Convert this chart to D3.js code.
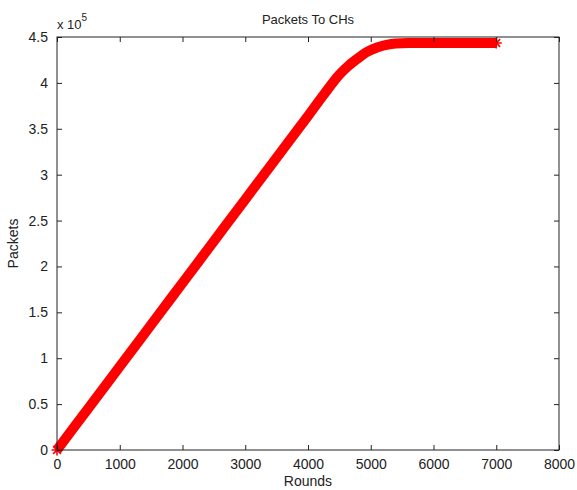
<!DOCTYPE html>
<html>
<head>
<meta charset="utf-8">
<script src="https://cdn.jsdelivr.net/npm/d3@7/dist/d3.min.js"></script>
<style>
  body { margin: 0; background: #fff; }
  svg { display: block; }
  text { font-family: "Liberation Sans", Arial, sans-serif; fill: #222; }
</style>
</head>
<body>
<svg id="chart" width="577" height="490"></svg>
<script>
// Data (rounds, packets in units of 1e5)
const rounds  = [0, 500, 1000, 1500, 2000, 2500, 3000, 3500, 4000, 4250, 4500, 4650, 4800, 4950, 5100, 5250, 5400, 5600, 6000, 6500, 7000];
const packets = [0, 0.455, 0.91, 1.365, 1.82, 2.275, 2.73, 3.185, 3.64, 3.87, 4.09, 4.19, 4.27, 4.34, 4.385, 4.415, 4.43, 4.435, 4.435, 4.435, 4.435];
const xTicks = [0, 1000, 2000, 3000, 4000, 5000, 6000, 7000, 8000];
const yTicks = [0, 0.5, 1, 1.5, 2, 2.5, 3, 3.5, 4, 4.5];
const yTickLabels = ["0", "0.5", "1", "1.5", "2", "2.5", "3", "3.5", "4", "4.5"];
const title = "Packets To CHs";
const xLabel = "Rounds";
const yLabel = "Packets";

const svg = d3.select("#chart");
const L = 57, R = 559, T = 37, B = 450;
const x = d3.scaleLinear().domain([0, 8000]).range([L, R]);
const y = d3.scaleLinear().domain([0, 4.5]).range([B, T]);

const data = rounds.map((r, i) => ({ r, p: packets[i] }));

// Curve (dense star markers look like a thick band)
const line = d3.line().x(d => x(d.r)).y(d => y(d.p)).curve(d3.curveMonotoneX);
svg.append("path").datum(data)
  .attr("d", line)
  .attr("fill", "none")
  .attr("stroke", "#f00")
  .attr("stroke-width", 10)
  .attr("stroke-linecap", "butt")
  .attr("stroke-linejoin", "round");

// star markers at the ends
const star = (cx, cy, s) => {
  let d = "";
  for (let k = 0; k < 4; k++) {
    const a = k * Math.PI / 4;
    d += `M${cx - s * Math.cos(a)},${cy - s * Math.sin(a)}L${cx + s * Math.cos(a)},${cy + s * Math.sin(a)}`;
  }
  return d;
};
[data[0], data[data.length - 1]].forEach(d => {
  svg.append("path").attr("d", star(x(d.r), y(d.p), 5.5))
    .attr("stroke", "#f00").attr("stroke-width", 1.6).attr("fill", "none");
});

// Box
svg.append("rect").attr("x", L).attr("y", T).attr("width", R - L).attr("height", B - T)
  .attr("fill", "none").attr("stroke", "#222").attr("stroke-width", 1);

// Axes with inward ticks
const tickLen = 5;
const xAxisB = d3.axisBottom(x).tickValues(xTicks).tickSize(-tickLen).tickPadding(9).tickFormat(d3.format("d"));
const gx = svg.append("g").attr("transform", `translate(0,${B})`).call(xAxisB);
const xAxisT = d3.axisTop(x).tickValues(xTicks).tickSize(-tickLen).tickFormat("");
const gxt = svg.append("g").attr("transform", `translate(0,${T})`).call(xAxisT);
const yAxisL = d3.axisLeft(y).tickValues(yTicks).tickSize(-tickLen).tickPadding(9).tickFormat((d, i) => yTickLabels[i]);
const gy = svg.append("g").attr("transform", `translate(${L},0)`).call(yAxisL);
const yAxisR = d3.axisRight(y).tickValues(yTicks).tickSize(-tickLen).tickFormat("");
const gyr = svg.append("g").attr("transform", `translate(${R},0)`).call(yAxisR);

[gx, gxt, gy, gyr].forEach(g => {
  g.select(".domain").remove();
  g.selectAll(".tick line").attr("stroke", "#222");
  g.selectAll("text").attr("font-size", 14).attr("fill", "#222")
    .style("font-family", "'Liberation Sans', Arial, sans-serif");
});

// Exponent label
const ex = svg.append("text").attr("x", L).attr("y", 29).attr("font-size", 13);
ex.append("tspan").text("x 10");
ex.append("tspan").attr("dy", -8).attr("font-size", 10).text("5");

// Title and labels
svg.append("text").attr("x", (L + R) / 2).attr("y", 24).attr("text-anchor", "middle")
  .attr("font-size", 13).text(title);
svg.append("text").attr("x", (L + R) / 2).attr("y", 486).attr("text-anchor", "middle")
  .attr("font-size", 14).text(xLabel);
svg.append("text").attr("transform", `translate(18,${(T + B) / 2}) rotate(-90)`)
  .attr("text-anchor", "middle").attr("font-size", 14).text(yLabel);
</script>
</body>
</html>
